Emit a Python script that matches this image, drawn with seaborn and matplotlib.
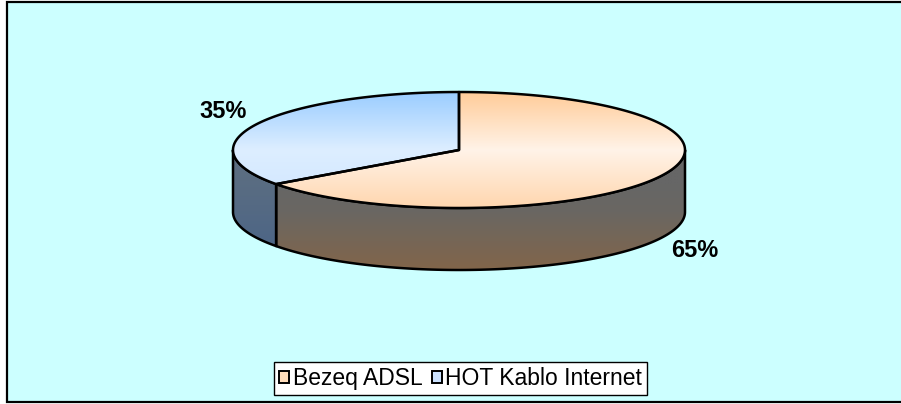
import numpy as np
import matplotlib
matplotlib.use("Agg")
import matplotlib.pyplot as plt
from matplotlib.patches import Polygon, Rectangle, Patch
from matplotlib.colors import to_rgb
import seaborn as sns

# ---- data ----
categories = ["Bezeq ADSL", "HOT Kablo Internet"]
values = [65, 35]
labels = ["65%", "35%"]

# ---- style ----
sns.set_theme(style="white")
plt.rcParams["font.family"] = ["Liberation Sans", "DejaVu Sans"]

W, H = 901, 404
fig = plt.figure(figsize=(W / 100, H / 100), dpi=100)
ax = fig.add_axes([0, 0, 1, 1])
ax.set_xlim(0, W)
ax.set_ylim(H, 0)
ax.axis("off")

# chart area background
ax.add_patch(Rectangle((7, 2), 910, 400, facecolor="#CCFFFF", edgecolor="black",
                       lw=1.6, zorder=0))

cx, cy, a, b, depth = 459, 150, 226, 58, 62

top_grad = {
    "Bezeq ADSL": [(92, "#FFCC99"), (150, "#FFF3E8"), (208, "#FFD6AE")],
    "HOT Kablo Internet": [(92, "#99CCFF"), (150, "#DDEEFF"), (208, "#CFE5FF")],
}
side_grad = {
    "Bezeq ADSL": [(184, "#666666"), (212, "#6A6762"), (270, "#82654A")],
    "HOT Kablo Internet": [(150, "#607080"), (262, "#4A6487")],
}
legend_col = {"Bezeq ADSL": "#FFDDBB", "HOT Kablo Internet": "#CCE2FF"}


def ell(theta_deg, dy=0.0):
    t = np.radians(theta_deg)
    return cx + a * np.cos(t), cy - b * np.sin(t) + dy


def grad_fill(xy, stops, z):
    xy = np.asarray(xy)
    x0, x1 = xy[:, 0].min(), xy[:, 0].max()
    y0, y1 = xy[:, 1].min(), xy[:, 1].max()
    ys = np.linspace(y0, y1, 200)
    sy = np.array([s[0] for s in stops], float)
    cols = np.array([to_rgb(s[1]) for s in stops])
    img = np.stack([np.interp(ys, sy, cols[:, k]) for k in range(3)], axis=-1)
    img = img[:, None, :].repeat(2, axis=1)
    poly = Polygon(xy, closed=True, facecolor="none", edgecolor="black",
                   lw=1.8, zorder=z + 0.1, joinstyle="round")
    ax.add_patch(poly)
    im = ax.imshow(img, extent=(x0, x1, y1, y0), origin="upper",
                   aspect="auto", zorder=z, interpolation="bilinear")
    im.set_clip_path(poly)


# slice angles (start at 12 o'clock, clockwise)
total = sum(values)
start = 90.0
spans = []
for cat, v in zip(categories, values):
    sweep = 360.0 * v / total
    spans.append((cat, start - sweep, start))  # math angles lo..hi
    start -= sweep

# side walls (front half: 180..360)
for cat, lo, hi in spans:
    for off in (0, 360, -360):
        l2, h2 = max(lo + off, 180), min(hi + off, 360)
        if h2 > l2:
            th = np.linspace(l2, h2, 120)
            topp = [ell(t) for t in th]
            botp = [ell(t, depth) for t in th[::-1]]
            grad_fill(topp + botp, side_grad[cat], 2)

# top faces
for cat, lo, hi in spans:
    th = np.linspace(lo, hi, 200)
    pts = [(cx, cy)] + [ell(t) for t in th]
    grad_fill(pts, top_grad[cat], 4)

# labels
for (cat, lo, hi), lab in zip(spans, labels):
    mid = np.radians((lo + hi) / 2)
    lx = cx + a * 1.17 * np.cos(mid)
    ly = cy - b * 1.45 * np.sin(mid) + (depth if np.sin(mid) < 0 else 0)
    ax.text(lx, ly, lab, ha="center", va="center", fontsize=17,
            fontweight="bold", color="black", zorder=6)

# legend
handles = [Patch(facecolor=legend_col[c], edgecolor="black", lw=1.4, label=c)
           for c in categories]
leg = ax.legend(handles=handles, loc="center", bbox_to_anchor=(460.5, 378.5),
                bbox_transform=ax.transData, ncol=2, fontsize=16.5,
                frameon=True, fancybox=False, edgecolor="black", framealpha=1,
                handlelength=0.45, handleheight=0.45, handletextpad=0.15,
                columnspacing=0.4, borderpad=0.22, borderaxespad=0)
leg.get_frame().set_linewidth(1.0)
leg.get_frame().set_facecolor("white")
for t in leg.get_texts():
    t.set_color("black")

fig.savefig("out.png", dpi=100, facecolor="white")
